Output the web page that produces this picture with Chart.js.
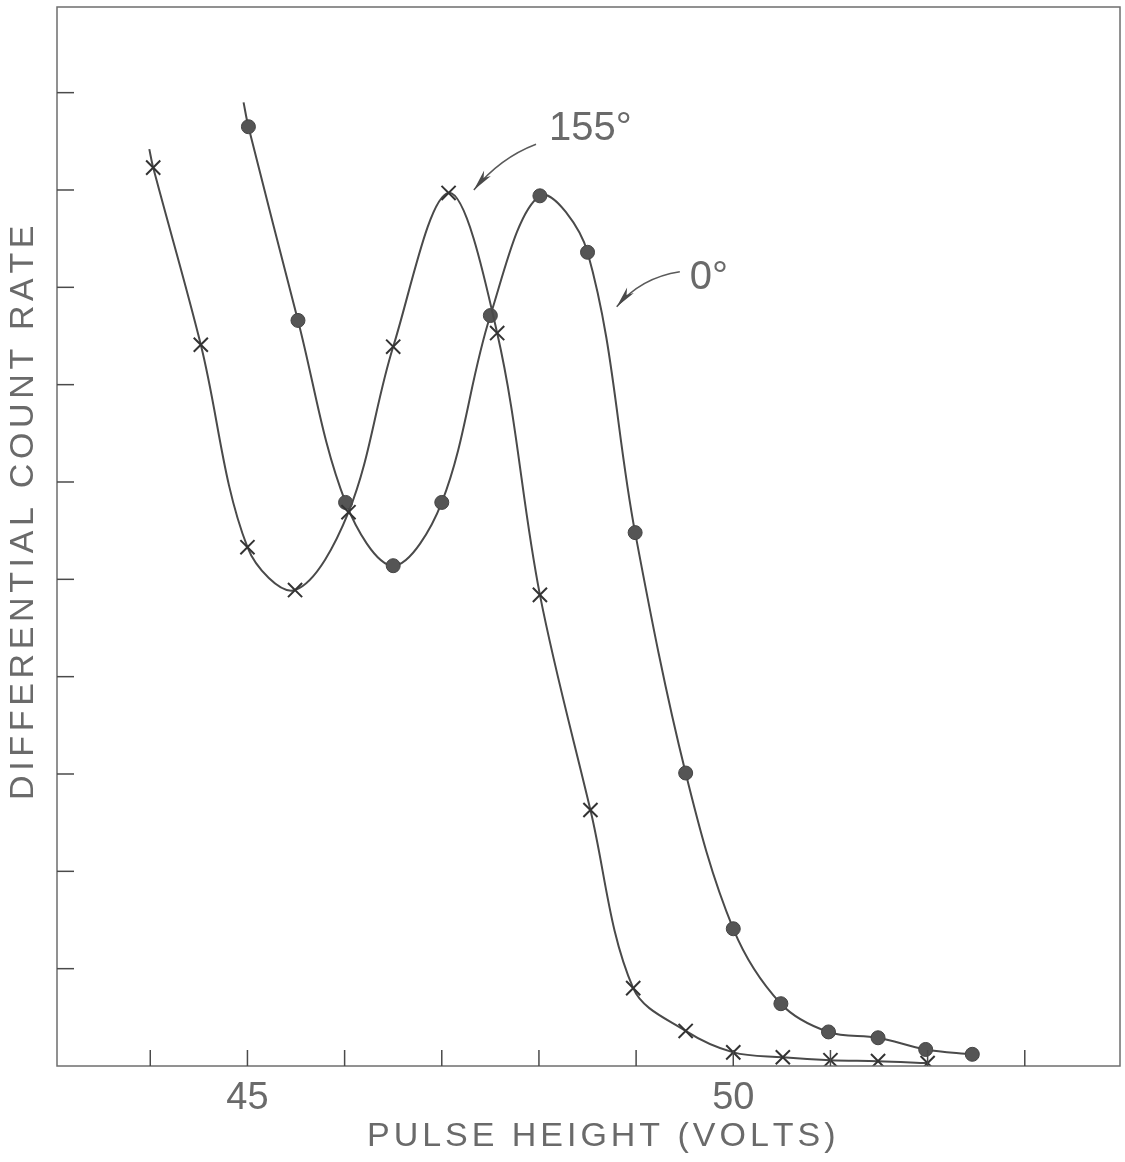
<!DOCTYPE html>
<html>
<head>
<meta charset="utf-8">
<script src="https://cdn.jsdelivr.net/npm/chart.js@4"></script>
<style>
  html, body { margin: 0; padding: 0; background: #fff; overflow: hidden; }
  #wrap { width: 1125px; height: 1162px; }
  canvas { display: block; }
</style>
</head>
<body>
<div id="wrap"><canvas id="chart"></canvas></div>
<script>
// Pulse height spectra, 155 deg (crosses) and 0 deg (dots)
const xTicks = [44, 45, 46, 47, 48, 49, 50, 51, 52, 53];
const xLabels = ['45', '50'];
const yTicks = [1, 2, 3, 4, 5, 6, 7, 8, 9, 10];

// first entry of each curve is the lead-in of the hand drawn line (no marker)
const volts155 = [43.99, 44.03, 44.52, 45.0, 45.49, 46.04, 46.5, 47.07, 47.57, 48.01, 48.53, 48.97, 49.51, 50.0, 50.51, 51.0, 51.49, 52.0];
const rate155  = [9.42, 9.23, 7.41, 5.33, 4.89, 5.69, 7.39, 8.97, 7.53, 4.84, 2.63, 0.80, 0.36, 0.14, 0.09, 0.06, 0.05, 0.03];

const volts0 = [44.96, 45.01, 45.52, 46.01, 46.5, 47.0, 47.5, 48.01, 48.5, 48.99, 49.51, 50.0, 50.49, 50.98, 51.49, 51.98, 52.46];
const rate0  = [9.9, 9.65, 7.66, 5.79, 5.14, 5.79, 7.71, 8.94, 8.36, 5.48, 3.01, 1.41, 0.64, 0.35, 0.29, 0.17, 0.12];

const ink = '#4a4a4a';
const textInk = '#6a6a6a';
const font = '"Liberation Sans", Arial, sans-serif';

function toPoints(xs, ys) {
    return xs.map((x, i) => ({ x: x, y: ys[i] }));
}

function radii(n, r) {
    // no marker on the lead-in point
    return Array.from({ length: n }, (_, i) => (i === 0 ? 0 : r));
}

// inward ticks, frame, labels and arrows
const decorPlugin = {
    id: 'decor',
    afterDraw(chart) {
        const ctx = chart.ctx;
        const area = chart.chartArea;
        const xs = chart.scales.x;
        const ys = chart.scales.y;
        ctx.save();

        // frame
        ctx.strokeStyle = '#6e6e6e';
        ctx.lineWidth = 1.5;
        ctx.strokeRect(area.left, area.top, area.right - area.left, area.bottom - area.top);

        // inward tick marks
        ctx.strokeStyle = ink;
        ctx.lineWidth = 1.5;
        xTicks.forEach(v => {
            const px = xs.getPixelForValue(v);
            ctx.beginPath();
            ctx.moveTo(px, area.bottom);
            ctx.lineTo(px, area.bottom - 16);
            ctx.stroke();
        });
        yTicks.forEach(v => {
            const py = ys.getPixelForValue(v);
            ctx.beginPath();
            ctx.moveTo(area.left, py);
            ctx.lineTo(area.left + 17, py);
            ctx.stroke();
        });

        // axis titles with wide letter spacing
        ctx.fillStyle = textInk;
        ctx.textAlign = 'center';
        ctx.textBaseline = 'middle';
        ctx.font = '34px ' + font;
        spacedText(ctx, 'PULSE HEIGHT (VOLTS)', 600, 1137, 466);

        ctx.save();
        ctx.translate(24, 514);
        ctx.rotate(-Math.PI / 2);
        ctx.font = '34px ' + font;
        spacedText(ctx, 'DIFFERENTIAL COUNT RATE', 0, 0, 572);
        ctx.restore();

        // curve labels
        ctx.font = '40px ' + font;
        ctx.textAlign = 'center';
        ctx.fillText('155°', xs.getPixelForValue(48.53), ys.getPixelForValue(9.63));
        ctx.fillText('0°', xs.getPixelForValue(49.75), ys.getPixelForValue(8.1));

        arrow(ctx, xs, ys, [47.97, 9.47], [47.6, 9.33], [47.33, 9.0]);
        arrow(ctx, xs, ys, [49.45, 8.16], [49.05, 8.1], [48.8, 7.8]);

        ctx.restore();
    }
};

function spacedText(ctx, text, cx, cy, targetWidth) {
    const w = ctx.measureText(text).width;
    const sp = Math.max(0, (targetWidth - w) / (text.length - 1));
    let x = cx - targetWidth / 2;
    ctx.textAlign = 'left';
    for (const ch of text) {
        ctx.fillText(ch, x, cy);
        x += ctx.measureText(ch).width + sp;
    }
    ctx.textAlign = 'center';
}

function arrow(ctx, xs, ys, from, ctrl, tip) {
    const p0 = [xs.getPixelForValue(from[0]), ys.getPixelForValue(from[1])];
    const pc = [xs.getPixelForValue(ctrl[0]), ys.getPixelForValue(ctrl[1])];
    const p1 = [xs.getPixelForValue(tip[0]), ys.getPixelForValue(tip[1])];
    ctx.strokeStyle = '#5a5a5a';
    ctx.lineWidth = 1.5;
    ctx.beginPath();
    ctx.moveTo(p0[0], p0[1]);
    ctx.quadraticCurveTo(pc[0], pc[1], p1[0], p1[1]);
    ctx.stroke();
    const ang = Math.atan2(p1[1] - pc[1], p1[0] - pc[0]);
    const len = 22, half = 0.2;
    ctx.fillStyle = '#4a4a4a';
    ctx.beginPath();
    ctx.moveTo(p1[0], p1[1]);
    ctx.lineTo(p1[0] - len * Math.cos(ang - half), p1[1] - len * Math.sin(ang - half));
    ctx.lineTo(p1[0] - len * 0.7 * Math.cos(ang), p1[1] - len * 0.7 * Math.sin(ang));
    ctx.lineTo(p1[0] - len * Math.cos(ang + half), p1[1] - len * Math.sin(ang + half));
    ctx.closePath();
    ctx.fill();
}

const ctx = document.getElementById('chart').getContext('2d');
new Chart(ctx, {
    type: 'line',
    data: {
        datasets: [{
            label: '155°',
            data: toPoints(volts155, rate155),
            borderColor: ink,
            borderWidth: 2,
            tension: 0.35,
            pointStyle: 'crossRot',
            pointRadius: radii(volts155.length, 10),
            pointBorderColor: '#333',
            pointBorderWidth: 2,
            pointBackgroundColor: '#333'
        }, {
            label: '0°',
            data: toPoints(volts0, rate0),
            borderColor: ink,
            borderWidth: 2,
            tension: 0.35,
            pointStyle: 'circle',
            pointRadius: radii(volts0.length, 7),
            pointBorderColor: '#444',
            pointBorderWidth: 1,
            pointBackgroundColor: '#555'
        }]
    },
    options: {
        responsive: true,
        maintainAspectRatio: false,
        animation: false,
        layout: { autoPadding: false, padding: { top: 7, right: 5, left: 0, bottom: 0 } },
        plugins: {
            legend: { display: false },
            tooltip: { enabled: false }
        },
        scales: {
            x: {
                type: 'linear',
                min: 43.04,
                max: 53.98,
                afterBuildTicks: scale => {
                    scale.ticks = xLabels.map(v => ({ value: Number(v) }));
                },
                afterFit: scale => { scale.height = 96; },
                grid: { display: false },
                border: { display: false },
                ticks: {
                    padding: 2,
                    color: textInk,
                    font: { size: 38, family: font },
                    callback: v => String(v)
                }
            },
            y: {
                min: 0,
                max: 10.88,
                afterFit: scale => { scale.width = 57; },
                grid: { display: false },
                border: { display: false },
                ticks: { display: false }
            }
        }
    },
    plugins: [decorPlugin]
});
</script>
</body>
</html>
